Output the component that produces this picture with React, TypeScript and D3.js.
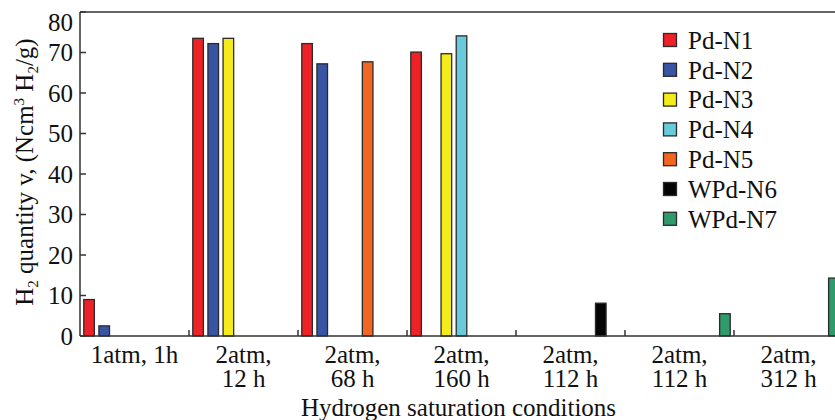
import * as d3 from "d3";

// conditions on the x axis (each label may wrap on two lines)
const conditions = [
  ["1atm, 1h"],
  ["2atm,", "12 h"],
  ["2atm,", "68 h"],
  ["2atm,", "160 h"],
  ["2atm,", "112 h"],
  ["2atm,", "112 h"],
  ["2atm,", "312 h"],
];

const seriesNames = ["Pd-N1", "Pd-N2", "Pd-N3", "Pd-N4", "Pd-N5", "WPd-N6", "WPd-N7"];
const seriesColors = ["#ee2226", "#3a54a4", "#f3eb1a", "#67cbdc", "#f36622", "#050505", "#2f9a6b"];

// H2 quantity per condition, null = no bar
const pdN1 = [9, 73.5, 72.2, 70.1, null, null, null];
const pdN2 = [2.5, 72.2, 67.2, null, null, null, null];
const pdN3 = [null, 73.5, null, 69.7, null, null, null];
const pdN4 = [null, null, null, 74.1, null, null, null];
const pdN5 = [null, null, 67.7, null, null, null, null];
const wpdN6 = [null, null, null, null, 8.1, null, null];
const wpdN7 = [null, null, null, null, null, 5.5, 14.3];

const seriesValues = [pdN1, pdN2, pdN3, pdN4, pdN5, wpdN6, wpdN7];

const yTicks = [0, 10, 20, 30, 40, 50, 60, 70, 80];

const W = 835;
const H = 420;
const left = 80;
const right = 843; // plot runs off the right side of the picture
const top = 12;
const bottom = 336;
const font = "'Liberation Serif', 'DejaVu Serif', serif";
const fs = 25;

export default function App() {
  const x0 = d3
    .scaleBand<number>()
    .domain(d3.range(conditions.length))
    .range([left, right])
    .padding(0);
  const x1 = d3
    .scaleBand<string>()
    .domain(seriesNames)
    .range([0, x0.bandwidth()])
    .paddingInner(0.3)
    .paddingOuter(0.25);
  const y = d3.scaleLinear().domain([0, 80]).range([bottom, top]);

  const axisColor = "#333";

  return (
    <svg
      width={W}
      height={H}
      style={{ position: "absolute", left: 0, top: 0, background: "#fff" }}
      fontFamily={font}
    >
      {/* bars */}
      {seriesValues.map((vals, si) =>
        vals.map((v, ci) =>
          v == null ? null : (
            <rect
              key={`${si}-${ci}`}
              x={(x0(ci) as number) + (x1(seriesNames[si]) as number)}
              y={y(v)}
              width={x1.bandwidth()}
              height={y(0) - y(v)}
              fill={seriesColors[si]}
              stroke="#2a2a2a"
              strokeWidth={1.3}
            />
          )
        )
      )}

      {/* frame: top line, left axis, bottom axis */}
      <line x1={left} x2={W + 10} y1={top} y2={top} stroke={axisColor} strokeWidth={1.5} />
      <line x1={left} x2={left} y1={top} y2={bottom} stroke={axisColor} strokeWidth={1.5} />
      <line x1={left} x2={W + 10} y1={bottom} y2={bottom} stroke={axisColor} strokeWidth={1.5} />

      {/* y ticks */}
      {yTicks.map((t, i) => (
        <g key={t}>
          <line x1={left} x2={left + 6} y1={y(t)} y2={y(t)} stroke={axisColor} strokeWidth={1.5} />
          <text
            x={left - 7}
            y={y(t)}
            dy={i === yTicks.length - 1 ? "0.75em" : "0.35em"}
            textAnchor="end"
            fontSize={fs}
            fill="#111"
          >
            {t}
          </text>
        </g>
      ))}

      {/* x ticks at group boundaries + labels */}
      {conditions.map((lab, ci) => {
        const gx = x0(ci) as number;
        const cx = gx + x0.bandwidth() / 2;
        return (
          <g key={ci}>
            {ci > 0 && (
              <line x1={gx} x2={gx} y1={bottom} y2={bottom - 6} stroke={axisColor} strokeWidth={1.5} />
            )}
            <text x={cx} y={363} textAnchor="middle" fontSize={fs} fill="#111">
              {lab.map((l, li) => (
                <tspan key={li} x={cx} dy={li === 0 ? 0 : 24}>
                  {l}
                </tspan>
              ))}
            </text>
          </g>
        );
      })}

      {/* x axis title */}
      <text x={(left + right) / 2 - 3} y={416} textAnchor="middle" fontSize={fs} fill="#111">
        Hydrogen saturation conditions
      </text>

      {/* y axis title */}
      <text
        transform={`translate(33,${(top + bottom) / 2 - 2}) rotate(-90)`}
        textAnchor="middle"
        fontSize={fs}
        fill="#111"
      >
        H<tspan fontSize={15} dy={5}>2</tspan>
        <tspan dy={-5}> quantity v, (Ncm</tspan>
        <tspan fontSize={15} dy={-9}>3</tspan>
        <tspan dy={9}> H</tspan>
        <tspan fontSize={15} dy={5}>2</tspan>
        <tspan dy={-5}>/g)</tspan>
      </text>

      {/* legend */}
      {seriesNames.map((name, i) => {
        const cy = 40 + i * 29.8;
        return (
          <g key={name}>
            <rect x={663.5} y={cy - 6.5} width={13} height={13} fill={seriesColors[i]} stroke="#2a2a2a" strokeWidth={1.3} />
            <text x={688} y={cy} dy="0.35em" fontSize={fs} fill="#111">
              {name}
            </text>
          </g>
        );
      })}
    </svg>
  );
}
